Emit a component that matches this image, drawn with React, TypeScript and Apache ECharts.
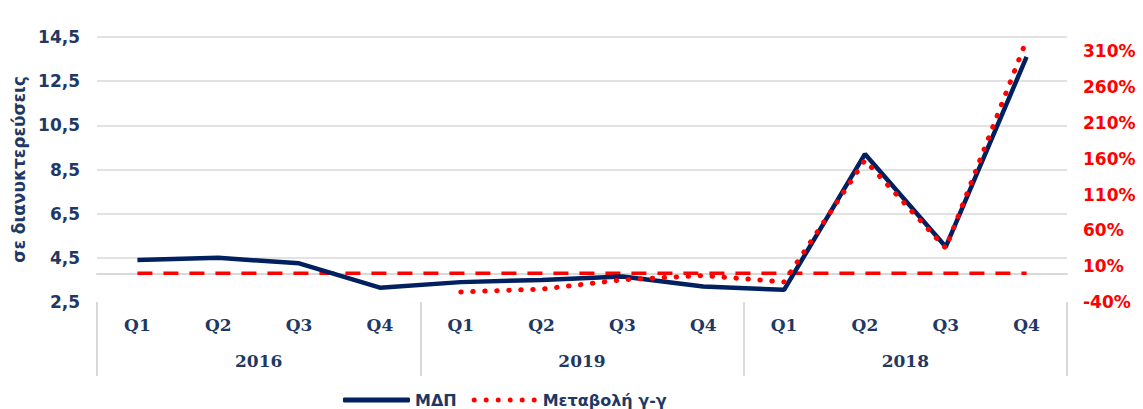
import React, { useEffect, useRef } from 'react';
import * as echarts from 'echarts';

const quarters = ['Q1', 'Q2', 'Q3', 'Q4', 'Q1', 'Q2', 'Q3', 'Q4', 'Q1', 'Q2', 'Q3', 'Q4'];
const years = ['2016', '2019', '2018'];
const mdp = [4.4, 4.5, 4.25, 3.15, 3.4, 3.5, 3.65, 3.2, 3.05, 9.2, 5.0, 13.6];
const yoyChange = [null, null, null, null, -26, -22, -9, -3, -12, 158, 35, 326];
const zeroRef = [0, 0, 0, 0, 0, 0, 0, 0, 0, 0, 0, 0];
const leftTicks = [2.5, 4.5, 6.5, 8.5, 10.5, 12.5, 14.5];
const rightTicks = [-40, 10, 60, 110, 160, 210, 260, 310];

const NAVY = '#002060';
const TEXT_NAVY = '#1f3864';
const RED = '#ff0000';
const GRID = '#d9d9d9';

const isTick = (v: number, ticks: number[]) => ticks.some((t) => Math.abs(t - v) < 1e-6);

// legend icon: row of six dots
const dotsIcon =
  'path://' +
  [0, 1, 2, 3, 4, 5]
    .map((i) => {
      const x = i * 12;
      return `M${x},2.5a2.5,2.5 0 1,0 5,0a2.5,2.5 0 1,0 -5,0Z`;
    })
    .join(' ');

export default function App() {
  const ref = useRef<HTMLDivElement>(null);
  useEffect(() => {
    document.body.style.margin = '0';
    const chart = echarts.init(ref.current!, null, { renderer: 'svg' });
    chart.setOption({
      animation: false,
      grid: { left: 97, right: 76, top: 37, bottom: 107, containLabel: false },
      legend: {
        data: [
          { name: 'ΜΔΠ', icon: 'roundRect', itemStyle: { color: NAVY } },
          { name: 'Μεταβολή γ-γ', icon: dotsIcon, itemStyle: { color: RED } },
        ],
        left: 338,
        top: 387,
        itemWidth: 67,
        itemHeight: 5,
        itemGap: 15,
        textStyle: { color: TEXT_NAVY, fontWeight: 'bold', fontFamily: 'DejaVu Sans', fontSize: 16 },
      },
      xAxis: [
        {
          type: 'category',
          data: quarters,
          position: 'bottom',
          axisLine: { show: true, lineStyle: { color: GRID, width: 2 } },
          axisTick: { show: false },
          axisLabel: {
            margin: 14,
            color: TEXT_NAVY,
            fontWeight: 'bold',
            fontFamily: 'DejaVu Serif',
            fontSize: 17,
          },
        },
        {
          type: 'category',
          data: years,
          position: 'bottom',
          axisLine: { show: false },
          axisTick: { show: true, length: 74, lineStyle: { color: GRID, width: 2 } },
          axisLabel: {
            margin: 50,
            color: TEXT_NAVY,
            fontWeight: 'bold',
            fontFamily: 'DejaVu Serif',
            fontSize: 17,
          },
        },
      ],
      yAxis: [
        {
          type: 'value',
          min: 2.5,
          max: 14.5,
          interval: 0.5,
          position: 'left',
          name: 'σε διανυκτερεύσεις',
          nameLocation: 'middle',
          nameGap: 70,
          nameTextStyle: { color: TEXT_NAVY, fontWeight: 'bold', fontFamily: 'DejaVu Sans', fontSize: 17 },
          axisLine: { show: false },
          axisTick: { show: false },
          splitLine: { show: false },
          axisLabel: {
            margin: 17,
            color: TEXT_NAVY,
            fontWeight: 'bold',
            fontFamily: 'DejaVu Sans',
            fontSize: 17,
            formatter: (v: number) => (isTick(v, leftTicks) ? v.toFixed(1).replace('.', ',') : ''),
          },
        },
        {
          type: 'value',
          min: -40,
          max: 330,
          interval: 10,
          position: 'right',
          axisLine: { show: false },
          axisTick: { show: false },
          splitLine: { show: false },
          axisLabel: {
            margin: 16,
            color: RED,
            fontWeight: 'bold',
            fontFamily: 'DejaVu Sans',
            fontSize: 17,
            formatter: (v: number) => (isTick(v, rightTicks) ? `${v}%` : ''),
          },
        },
      ],
      series: [
        {
          name: 'gridlines',
          type: 'line',
          yAxisIndex: 0,
          data: quarters.map(() => null),
          z: 0,
          silent: true,
          markLine: {
            z: 0,
            silent: true,
            symbol: ['none', 'none'],
            label: { show: false },
            lineStyle: { color: GRID, width: 1.5, type: 'solid' },
            data: leftTicks.slice(1).map((t) => ({ yAxis: t })),
          },
        },
        {
          name: 'zero',
          type: 'line',
          yAxisIndex: 1,
          data: zeroRef,
          symbol: 'none',
          z: 2,
          lineStyle: { color: RED, width: 3.5, type: [15, 11] },
        },
        {
          name: 'ΜΔΠ',
          type: 'line',
          yAxisIndex: 0,
          data: mdp,
          symbol: 'none',
          z: 3,
          itemStyle: { color: NAVY },
          lineStyle: { color: NAVY, width: 4.5 },
        },
        {
          name: 'Μεταβολή γ-γ',
          type: 'line',
          yAxisIndex: 1,
          data: yoyChange,
          symbol: 'none',
          z: 4,
          itemStyle: { color: RED },
          lineStyle: { color: RED, width: 5, type: [0.5, 11.5], cap: 'round' },
        },
      ],
    });
    return () => chart.dispose();
  }, []);
  return <div ref={ref} style={{ width: 1143, height: 409 }} />;
}
